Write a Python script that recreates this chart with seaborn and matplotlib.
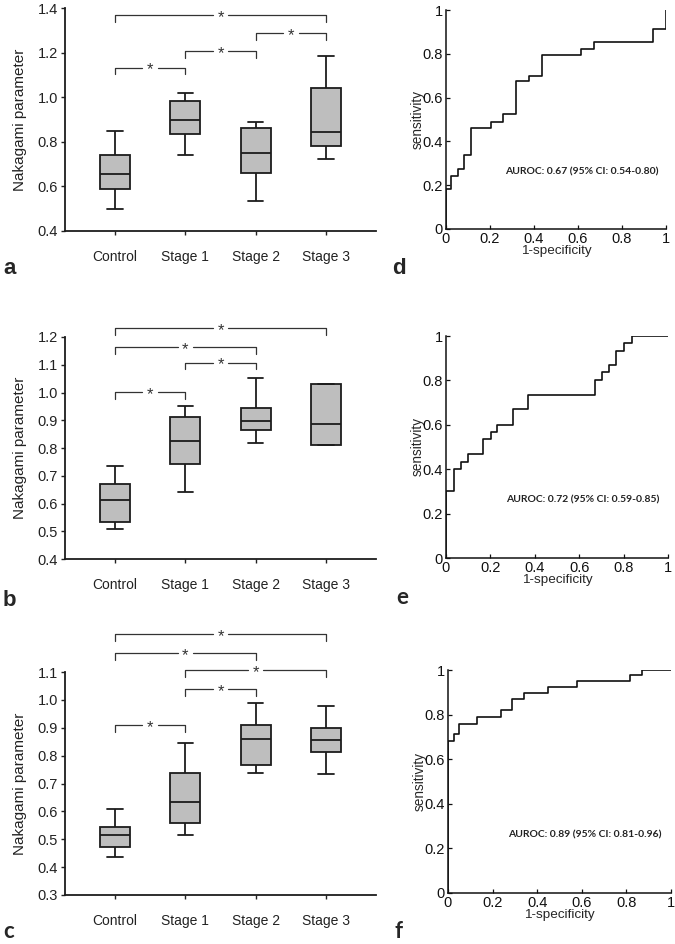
import numpy as np
import pandas as pd
import matplotlib
matplotlib.use('Agg')
import matplotlib.pyplot as plt
import seaborn as sns

# style
sns.set_theme(style='ticks')
plt.rcParams['font.family'] = ['Liberation Sans', 'DejaVu Sans']

# groups
groups = ['Control', 'Stage 1', 'Stage 2', 'Stage 3']

# box data : min, Q1, median, Q3, max
a_control = [0.499, 0.587, 0.657, 0.740, 0.848]
a_stage1 = [0.740, 0.834, 0.898, 0.982, 1.021]
a_stage2 = [0.533, 0.660, 0.752, 0.863, 0.887]
a_stage3 = [0.725, 0.782, 0.843, 1.042, 1.183]

b_control = [0.509, 0.532, 0.611, 0.671, 0.734]
b_stage1 = [0.643, 0.741, 0.825, 0.910, 0.950]
b_stage2 = [0.819, 0.866, 0.898, 0.945, 1.053]
b_stage3 = [0.810, 0.810, 0.887, 1.030, 1.030]

c_control = [0.437, 0.472, 0.515, 0.545, 0.608]
c_stage1 = [0.517, 0.560, 0.632, 0.739, 0.846]
c_stage2 = [0.736, 0.765, 0.858, 0.909, 0.987]
c_stage3 = [0.733, 0.813, 0.855, 0.899, 0.977]

# significance brackets : (group i, group j, height)
a_brackets = [(0, 1, 1.133), (1, 2, 1.208), (2, 3, 1.286), (0, 3, 1.370)]
b_brackets = [(0, 1, 1.002), (1, 2, 1.108), (0, 2, 1.164), (0, 3, 1.232)]
c_brackets = [(0, 1, 0.911), (1, 2, 1.040), (1, 3, 1.106), (0, 2, 1.168), (0, 3, 1.237)]

# y axis ticks of the box panels
a_yticks = [0.4, 0.6, 0.8, 1.0, 1.2, 1.4]
b_yticks = [0.4, 0.5, 0.6, 0.7, 0.8, 0.9, 1.0, 1.1, 1.2]
c_yticks = [0.3, 0.4, 0.5, 0.6, 0.7, 0.8, 0.9, 1.0, 1.1]

# ROC curves (1-specificity, sensitivity)
d_fpr = [0, 0, 0.023, 0.056, 0.083, 0.115, 0.203, 0.260, 0.318, 0.379, 0.438, 0.615, 0.674, 0.939, 1.0]
d_tpr = [0, 0.182, 0.242, 0.275, 0.337, 0.459, 0.489, 0.526, 0.678, 0.699, 0.793, 0.822, 0.853, 0.912, 1.0]

e_fpr = [0, 0, 0.037, 0.066, 0.100, 0.168, 0.202, 0.228, 0.303, 0.370, 0.670, 0.703, 0.735, 0.768, 0.801, 0.837, 1.0]
e_tpr = [0, 0.300, 0.400, 0.433, 0.468, 0.535, 0.568, 0.600, 0.669, 0.733, 0.802, 0.837, 0.870, 0.934, 0.967, 1.0, 1.0]

f_fpr = [0, 0, 0.025, 0.049, 0.132, 0.237, 0.289, 0.341, 0.449, 0.579, 0.816, 0.868, 1.0]
f_tpr = [0, 0.683, 0.711, 0.760, 0.790, 0.820, 0.870, 0.898, 0.922, 0.952, 0.976, 1.0, 1.0]

d_text = 'AUROC: 0.67 (95% CI: 0.54-0.80)'
e_text = 'AUROC: 0.72 (95% CI: 0.59-0.85)'
f_text = 'AUROC: 0.89 (95% CI: 0.81-0.96)'

roc_ticks = [0, 0.2, 0.4, 0.6, 0.8, 1]
roc_ticklabels = ['0', '0.2', '0.4', '0.6', '0.8', '1']

W, H = 675, 944
fig = plt.figure(figsize=(W / 100, H / 100), dpi=100)


def px_axes(x0, y0, x1, y1):
    # pixel box (top-left origin) -> axes
    return fig.add_axes([x0 / W, 1 - y1 / H, (x1 - x0) / W, (y1 - y0) / H])


def box_panel(ax, summaries, yticks, brackets):
    df = pd.DataFrame({'group': np.repeat(groups, 5),
                       'value': np.concatenate(summaries)})
    sns.boxplot(data=df, x='group', y='value', order=groups, whis=(0, 100),
                width=0.43, color='#bebebe', saturation=1, linecolor='#1c1c1c',
                linewidth=1.3, ax=ax)
    ax.set_xlim(-0.71, 3.71)
    ax.set_ylim(yticks[0], yticks[-1])
    ax.set_yticks(yticks)
    ax.set_yticklabels(['%.1f' % t for t in yticks])
    ax.set_xlabel('')
    ax.set_ylabel('Nakagami parameter', fontsize=11, color='#222222', labelpad=8)
    ax.tick_params(axis='both', direction='out', length=3, width=1, labelsize=10.5,
                   colors='#222222', pad=2)
    ax.tick_params(axis='x', pad=11, labelsize=10)
    sns.despine(ax=ax)
    for sp in ['left', 'bottom']:
        ax.spines[sp].set_linewidth(1.3)
        ax.spines[sp].set_color('#1c1c1c')
    # brackets
    leg = 0.031 * (yticks[-1] - yticks[0])
    gap = 0.11
    for i, j, h in brackets:
        mid = (i + j) / 2
        ax.plot([i, i, mid - gap], [h - leg, h, h], color='#333333', lw=0.9, clip_on=False)
        ax.plot([mid + gap, j, j], [h, h, h - leg], color='#333333', lw=0.9, clip_on=False)
        ax.annotate('*', xy=(mid, h), xytext=(0, -1.8), textcoords='offset points',
                    ha='center', va='center', fontsize=12, color='#333333',
                    annotation_clip=False)


def roc_panel(ax, fpr, tpr, text):
    sns.lineplot(x=fpr, y=tpr, estimator=None, sort=False, drawstyle='steps-post',
                 color='#111111', linewidth=1.2, ax=ax)
    ax.set_xlim(0, 1)
    ax.set_ylim(0, 1)
    ax.set_xticks(roc_ticks)
    ax.set_xticklabels(roc_ticklabels)
    ax.set_yticks(roc_ticks)
    ax.set_yticklabels(roc_ticklabels)
    ax.tick_params(axis='both', direction='in', length=3, width=0.9, labelsize=10.5,
                   colors='#111111')
    ax.tick_params(axis='x', pad=2.5)
    ax.tick_params(axis='y', pad=2.5)
    sns.despine(ax=ax)
    for sp in ['left', 'bottom']:
        ax.spines[sp].set_linewidth(1.1)
        ax.spines[sp].set_color('#111111')
    ax.set_xlabel('1-specificity', fontsize=9.7, labelpad=-1)
    ax.set_ylabel('sensitivity', fontsize=9.8, labelpad=-1.5)
    ax.text(0.27, 0.26, text, fontsize=7.5, fontweight='bold', va='center',
            family=['Lato', 'DejaVu Sans'], color='#222222')


ax_a = px_axes(65, 8, 376, 231)
box_panel(ax_a, [a_control, a_stage1, a_stage2, a_stage3], a_yticks, a_brackets)
ax_b = px_axes(65, 337, 376, 559)
box_panel(ax_b, [b_control, b_stage1, b_stage2, b_stage3], b_yticks, b_brackets)
ax_c = px_axes(65, 672, 376, 895)
box_panel(ax_c, [c_control, c_stage1, c_stage2, c_stage3], c_yticks, c_brackets)

ax_d = px_axes(446, 10, 666, 229)
roc_panel(ax_d, d_fpr, d_tpr, d_text)
ax_e = px_axes(446, 336, 668, 558)
roc_panel(ax_e, e_fpr, e_tpr, e_text)
ax_f = px_axes(448, 670, 671, 893)
roc_panel(ax_f, f_fpr, f_tpr, f_text)

# panel letters
letters = [('a', 3, 269, 'Liberation Sans'), ('b', 3, 600, 'Liberation Sans'),
           ('c', 3, 932, 'Lato'), ('d', 392, 268, 'Liberation Sans'),
           ('e', 396, 597, 'Lato'), ('f', 395, 931, 'Lato')]
for lab, x, y, fam in letters:
    fig.text(x / W, 1 - y / H, lab, fontsize=16, fontweight='bold',
             family=[fam, 'DejaVu Sans'], va='center', ha='left')

fig.savefig('out.png', dpi=100)
